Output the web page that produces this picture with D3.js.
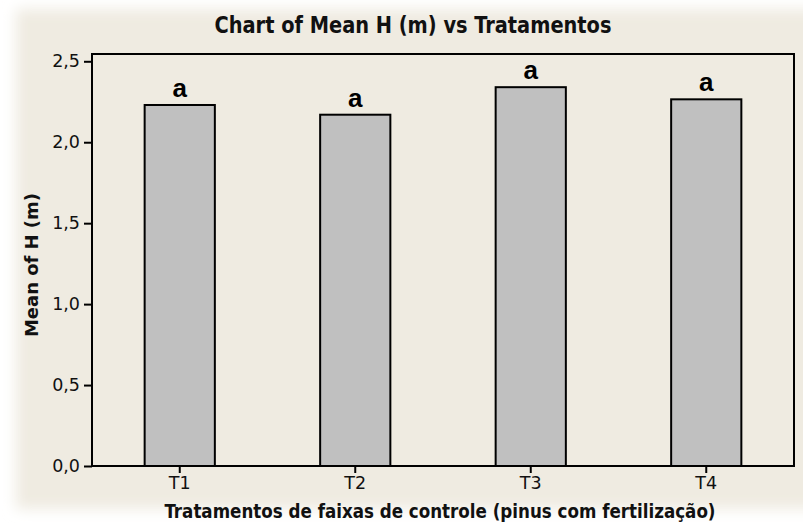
<!DOCTYPE html>
<html>
<head>
<meta charset="utf-8">
<script src="https://d3js.org/d3.v7.min.js"></script>
<style>
  body { margin: 0; background: #fff; }
  text { font-family: "DejaVu Sans Condensed", "DejaVu Sans", sans-serif; }
</style>
</head>
<body>
<svg width="803" height="523"></svg>
<script>
// chart data
var tratamentos = ["T1", "T2", "T3", "T4"];
var meanH = [2.23, 2.17, 2.34, 2.265];
var letras = ["a", "a", "a", "a"];
var yTicks = [0, 0.5, 1.0, 1.5, 2.0, 2.5];

var svg = d3.select("svg"),
    width = +svg.attr("width"),
    height = +svg.attr("height");

var margin = {left: 92, right: 10, top: 54, bottom: 57};

// soft faded page edge
var defs = svg.append("defs");
defs.append("filter").attr("id", "fade")
    .attr("x", "-10%").attr("y", "-10%").attr("width", "120%").attr("height", "120%")
  .append("feGaussianBlur").attr("stdDeviation", 7);

svg.append("rect")
    .attr("x", 16).attr("y", 9)
    .attr("width", width + 30).attr("height", 500)
    .attr("fill", "#efebe1")
    .attr("filter", "url(#fade)");

var x = d3.scaleBand()
    .domain(tratamentos)
    .range([margin.left, width - margin.right + 1])
    .paddingInner(0.6)
    .paddingOuter(0.3);

var y = d3.scaleLinear()
    .domain([0, 2.545])
    .range([height - margin.bottom, margin.top]);

// bars
svg.append("g").selectAll("rect")
  .data(meanH)
  .enter().append("rect")
    .attr("x", function(d, i) { return x(tratamentos[i]); })
    .attr("y", function(d) { return y(d); })
    .attr("width", x.bandwidth())
    .attr("height", function(d) { return y(0) - y(d); })
    .attr("fill", "#c0c0c0")
    .attr("stroke", "#000")
    .attr("stroke-width", 2);

// letters over bars
svg.append("g").selectAll("text")
  .data(letras)
  .enter().append("text")
    .attr("x", function(d, i) { return x(tratamentos[i]) + x.bandwidth() / 2; })
    .attr("y", function(d, i) { return y(meanH[i]) - 8; })
    .attr("text-anchor", "middle")
    .style("font-family", "'Liberation Sans', Arial, sans-serif")
    .style("font-weight", "bold")
    .style("font-size", "26px")
    .text(function(d) { return d; });

// frame
svg.append("rect")
    .attr("x", margin.left).attr("y", margin.top)
    .attr("width", width - margin.right + 1 - margin.left)
    .attr("height", height - margin.bottom - margin.top)
    .attr("fill", "none")
    .attr("stroke", "#000")
    .attr("stroke-width", 2);

var tickFont = "'DejaVu Sans', sans-serif";

// y axis
var yAxis = svg.append("g")
    .attr("transform", "translate(" + margin.left + ",0)")
    .call(d3.axisLeft(y).tickValues(yTicks).tickSize(8).tickPadding(4)
      .tickFormat(function(d) { return d3.format(".1f")(d).replace(".", ","); }));
yAxis.select(".domain").remove();
yAxis.selectAll(".tick line").attr("stroke-width", 2);
yAxis.selectAll("text").style("font-size", "17.5px").style("font-family", tickFont).attr("fill", "#111");

// x axis
var xAxis = svg.append("g")
    .attr("transform", "translate(0," + (height - margin.bottom) + ")")
    .call(d3.axisBottom(x).tickSize(7).tickPadding(4));
xAxis.select(".domain").remove();
xAxis.selectAll(".tick line").attr("stroke-width", 2);
xAxis.selectAll("text").style("font-size", "17.5px").style("font-family", tickFont).attr("fill", "#111");

// title
svg.append("text")
    .attr("x", 413).attr("y", 33)
    .attr("text-anchor", "middle")
    .attr("textLength", 397).attr("lengthAdjust", "spacingAndGlyphs")
    .style("font-weight", "bold")
    .style("font-size", "23px")
    .attr("fill", "#111")
    .text("Chart of Mean H (m)  vs Tratamentos");

// axis titles
svg.append("text")
    .attr("x", 440).attr("y", 518)
    .attr("text-anchor", "middle")
    .attr("textLength", 551).attr("lengthAdjust", "spacingAndGlyphs")
    .style("font-weight", "bold")
    .style("font-size", "20px")
    .attr("fill", "#111")
    .text("Tratamentos de faixas de controle (pinus com fertilização)");

svg.append("text")
    .attr("transform", "translate(38,265) rotate(-90)")
    .attr("text-anchor", "middle")
    .attr("textLength", 144).attr("lengthAdjust", "spacingAndGlyphs")
    .style("font-weight", "bold")
    .style("font-size", "18px")
    .attr("fill", "#111")
    .text("Mean of H (m)");
</script>
</body>
</html>
